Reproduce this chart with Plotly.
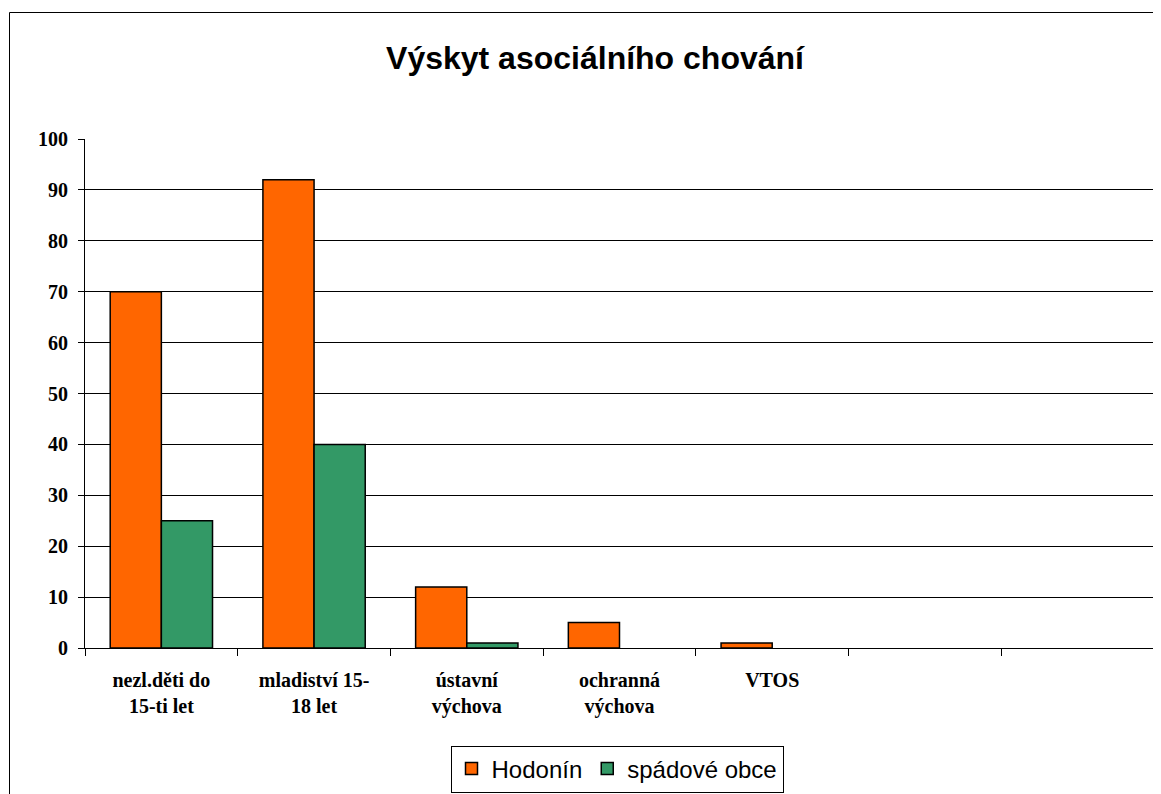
import plotly.graph_objects as go

categories = ["nezl.děti do<br>15-ti let", "mladiství 15-<br>18 let", "ústavní<br>výchova",
              "ochranná<br>výchova", "VTOS", " ", "  "]
hodonin = [70, 92, 12, 5, 1, None, None]
spadove = [25, 40, 1, None, None, None, None]
series_names = ["Hodonín", "spádové obce"]
y_ticks = [0, 10, 20, 30, 40, 50, 60, 70, 80, 90, 100]

OFF = 8  # page body margin
W, H = 1161 - OFF, 794 - OFF
L, T = 85 - OFF, 139 - OFF
R = W - (1154 - OFF)
B = H - (648 - OFF)
pw, ph = W - L - R, H - T - B

def px_x(px):
    return (px - OFF - L) / pw

def px_y(py):
    return (648 - py) / ph

fig = go.Figure()
fig.add_trace(go.Bar(x=categories, y=hodonin, name=series_names[0],
                     marker=dict(color="#FF6600", line=dict(color="black", width=1.5))))
fig.add_trace(go.Bar(x=categories, y=spadove, name=series_names[1],
                     marker=dict(color="#339966", line=dict(color="black", width=1.5))))

fig.update_layout(
    width=W, height=H,
    margin=dict(l=L, r=R, t=T, b=B, autoexpand=False),
    paper_bgcolor="white", plot_bgcolor="white",
    barmode="group", bargap=0.33, bargroupgap=0,
    title=dict(text="Výskyt asociálního chování", x=px_x(595), xref="paper",
               xanchor="center", y=1 - (58 - OFF) / H, yref="container", yanchor="middle",
               font=dict(family="Liberation Sans, Arial", size=32, color="black", weight="bold")),
    legend=dict(orientation="h", x=px_x(617), xref="paper",
                y=1 - (769 - OFF) / H, yref="container", xanchor="center", yanchor="middle",
                bordercolor="black", borderwidth=1, bgcolor="white",
                font=dict(family="Liberation Sans, Arial", size=24, color="black"),
                itemwidth=30, tracegroupgap=0),
    xaxis=dict(type="category", tickson="boundaries", ticks="outside", ticklen=7,
               tickcolor="black", showline=True, linecolor="black", linewidth=1,
               showgrid=False, ticklabelstandoff=14,
               tickfont=dict(family="Liberation Serif, Times New Roman", size=20, color="black",
                             weight="bold"),
               tickangle=0),
    yaxis=dict(range=[0, 100], tickvals=y_ticks, ticks="outside", ticklen=6,
               tickcolor="black", showline=True, linecolor="black", linewidth=1,
               showgrid=True, gridcolor="black", gridwidth=1, zeroline=False,
               ticklabelstandoff=6,
               tickfont=dict(family="Liberation Serif, Times New Roman", size=20, color="black",
                             weight="bold")),
    shapes=[dict(type="rect", xref="paper", yref="paper",
                 x0=px_x(9.5), x1=px_x(1170), y0=px_y(800), y1=px_y(12.5),
                 line=dict(color="black", width=1), fillcolor="rgba(0,0,0,0)", layer="below")],
)

fig.write_html("out.html")
